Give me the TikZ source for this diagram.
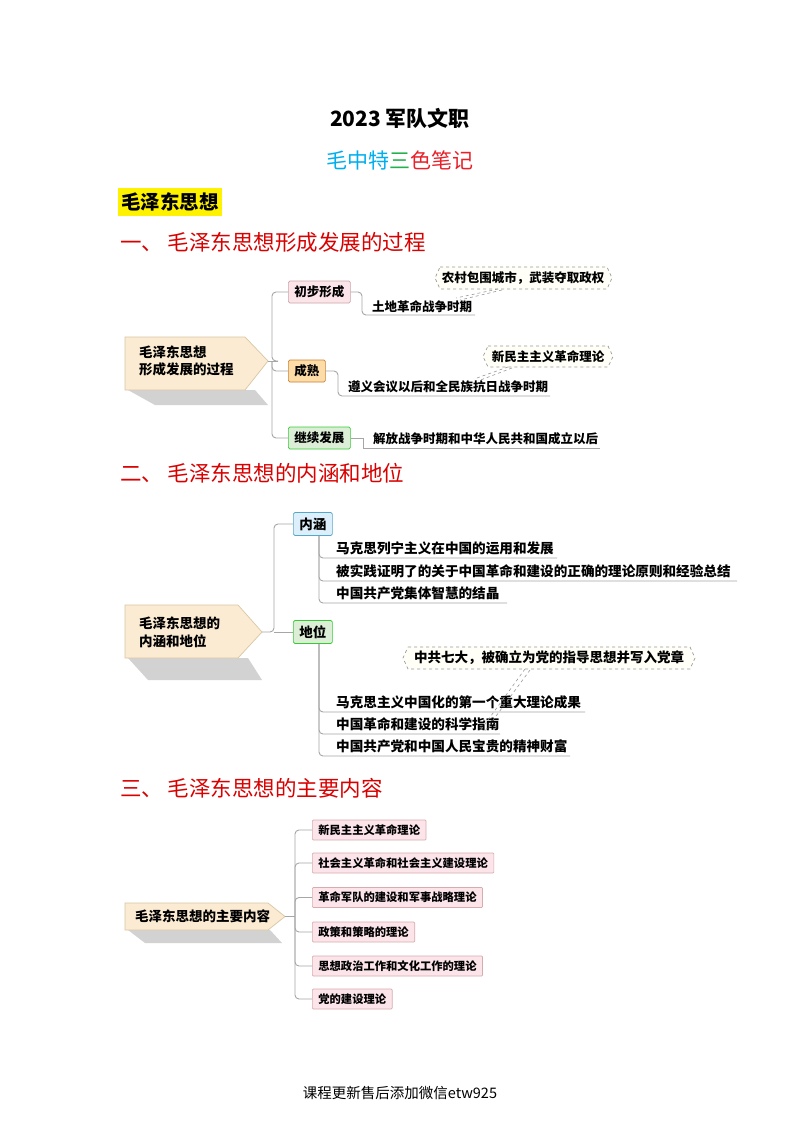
\documentclass[tikz,border=0pt]{standalone}
\usepackage{fontspec}
\setmainfont{Noto Sans CJK SC}
\begin{document}
\begin{tikzpicture}[x=1pt,y=-1pt,
  every node/.style={inner sep=0pt,font=\fontsize{12.5}{14}\selectfont\bfseries},
  lbl/.style={anchor=base west,font=\fontsize{12.5}{14}\selectfont\bfseries},
  lblb/.style={anchor=base west,font=\fontsize{13.6}{15}\selectfont\bfseries},
  conn/.style={draw=gray!70,line width=0.9pt,rounded corners=4pt},
  uline/.style={draw=gray!70,line width=0.9pt},
  bx/.style={draw=#1!60!gray,line width=0.7pt,rounded corners=1.5pt,inner xsep=6pt,minimum height=22pt,anchor=west},
  head/.style={anchor=base west,text=red!85!black,font=\fontsize{21.5}{25}\selectfont\mdseries},
  callout/.style={draw=gray!80,dashed,line width=0.7pt,fill=yellow!3},
  shadow/.style={fill=gray!35,draw=none},
  rootbox/.style={fill=rootfill,draw=rootdraw,line width=0.7pt}
]
\definecolor{rootfill}{HTML}{FBEBD2}
\definecolor{rootdraw}{HTML}{D9C6A2}
\definecolor{pinkf}{HTML}{FBE4EA}
\definecolor{orangef}{HTML}{FDDCA8}
\definecolor{greenf}{HTML}{DCEFD6}
\definecolor{bluef}{HTML}{DCEFFA}
\definecolor{titlecyan}{HTML}{00AEEF}
\definecolor{titlegreen}{HTML}{22B14C}
\definecolor{titlered}{HTML}{E8202A}
\useasboundingbox[fill=white] (0,0) rectangle (800,1132);

% titles
\node[font=\fontsize{21}{24}\selectfont\bfseries] (t1) at (400,118) {2023 军队文职};
\node[font=\fontsize{21}{24}\selectfont\mdseries] (t2) at (400,160) {\textcolor{titlecyan}{毛中特}\textcolor{titlegreen}{三}\textcolor{titlered}{色笔记}};
\node[fill=yellow,inner xsep=3pt,inner ysep=5pt,anchor=west,font=\fontsize{19.5}{22}\selectfont\bfseries] (t3) at (118,202) {毛泽东思想};
\node[head] (h1) at (120,250) {一、 毛泽东思想形成发展的过程};
\node[head] (h2) at (120,481) {二、 毛泽东思想的内涵和地位};
\node[head] (h3) at (120,796) {三、 毛泽东思想的主要内容};

% ===== diagram 1 =====
\fill[shadow] (128,390) -- (255,390) -- (268,405) -- (155,405) -- cycle;
\draw[rootbox] (125,337) -- (245,337) -- (268,361) -- (245,390) -- (125,390) -- cycle;
\node[anchor=west,align=left,font=\fontsize{13.5}{17}\selectfont\bfseries] (r1) at (139,361) {毛泽东思想\\形成发展的过程};
\coordinate (r1tip) at (268,361);
\node[bx=pink,fill=pinkf] (a1) at (288,292) {初步形成};
\node[bx=orange,fill=orangef] (a2) at (288,371) {成熟};
\node[bx=green,fill=greenf] (a3) at (288,438) {继续发展};
\draw[conn] (r1tip) -- (278,361);
\draw[conn] (278,361) -- (272,361) |- (a1.west);
\draw[conn] (272,361) |- (a2.west);
\draw[conn] (272,361) |- (a3.west);
\node[lbl] (b1) at (372,311) {土地革命战争时期};
\draw[conn] (a1.east) -- (362,292) |- (475,315);
\node[lbl] (b2) at (348,391) {遵义会议以后和全民族抗日战争时期};
\draw[conn] (a2.east) -- (338,371) |- (550,396);
\node[lbl] (b3) at (373,443) {解放战争时期和中华人民共和国成立以后};
\draw[uline] (a3.east) -- (363,438) |- (600,448);
% callouts
\draw[callout] (440,267) -- (607,267) -- (612,278) -- (607,289) -- (440,289) -- (435,278) -- cycle;
\node (c1) at (523,278) {农村包围城市，武装夺取政权};
\draw[gray!80,dashed,line width=0.6pt] (498,289) -- (456,298) (502,290) -- (460,300);
\draw[callout] (488,346) -- (608,346) -- (613,356.5) -- (608,367) -- (488,367) -- (483,356.5) -- cycle;
\node (c2) at (548,356.5) {新民主主义革命理论};
\draw[gray!80,dashed,line width=0.6pt] (508,367) -- (474,379) (512,368) -- (478,381);

% ===== diagram 2 =====
\fill[shadow] (128,658) -- (248,658) -- (262,680) -- (148,680) -- cycle;
\draw[rootbox] (125,605) -- (238,605) -- (262,632) -- (238,658) -- (125,658) -- cycle;
\node[anchor=west,align=left,font=\fontsize{13.5}{18}\selectfont\bfseries] (r2) at (139,632) {毛泽东思想的\\内涵和地位};
\coordinate (r2tip) at (262,632);
\node[bx=cyan,fill=bluef,font=\fontsize{13.5}{15}\selectfont\bfseries,minimum height=23pt] (d1) at (293,524) {内涵};
\node[bx=green,fill=greenf,font=\fontsize{13.5}{15}\selectfont\bfseries,minimum height=23pt] (d2) at (293,632) {地位};
\draw[conn] (r2tip) -- (274,632) |- (d1.west);
\draw[conn] (274,632) -- (d2.west);
\coordinate (v1) at (319,536);
\coordinate (v2) at (319,644);
\node[lblb] (e1) at (336,553) {马克思列宁主义在中国的运用和发展};
\node[lblb] (e2) at (336,576) {被实践证明了的关于中国革命和建设的正确的理论原则和经验总结};
\node[lblb] (e3) at (336,598) {中国共产党集体智慧的结晶};
\draw[conn] (v1) |- (557,558);
\draw[conn] (v1) |- (737,581);
\draw[conn] (v1) |- (507,603);
\node[lblb] (f1) at (336,707) {马克思主义中国化的第一个重大理论成果};
\node[lblb] (f2) at (336,729) {中国革命和建设的科学指南};
\node[lblb] (f3) at (336,751) {中国共产党和中国人民宝贵的精神财富};
\draw[conn] (v2) |- (585,712);
\draw[conn] (v2) |- (500,734);
\draw[conn] (v2) |- (570,756);
\draw[callout] (408,647) -- (690,647) -- (695,658) -- (690,669) -- (408,669) -- (403,658) -- cycle;
\node[font=\fontsize{13.5}{15}\selectfont\bfseries] (c3) at (549,658) {中共七大，被确立为党的指导思想并写入党章};
\draw[gray!80,dashed,line width=0.6pt] (525,669) -- (480,731) (530,670) -- (485,731);

% ===== diagram 3 =====
\fill[shadow] (128,930) -- (270,930) -- (282,943) -- (145,943) -- cycle;
\draw[rootbox] (125,903) -- (268,903) -- (285,916.5) -- (268,930) -- (125,930) -- cycle;
\node[anchor=west,font=\fontsize{13.5}{15}\selectfont\bfseries] (r3) at (135,916.5) {毛泽东思想的主要内容};
\coordinate (r3tip) at (285,916.5);
\coordinate (sp) at (295,916.5);
\tikzset{pb/.style={draw=pink!70!gray,fill=pinkf,line width=0.7pt,rounded corners=1pt,inner xsep=6pt,minimum height=20pt,anchor=west,font=\fontsize{11.3}{13}\selectfont\bfseries}}
\node[pb] (g1) at (312,830) {新民主主义革命理论};
\node[pb] (g2) at (312,863) {社会主义革命和社会主义建设理论};
\node[pb] (g3) at (312,897.5) {革命军队的建设和军事战略理论};
\node[pb] (g4) at (312,932) {政策和策略的理论};
\node[pb] (g5) at (312,966) {思想政治工作和文化工作的理论};
\node[pb] (g6) at (312,999) {党的建设理论};
\draw[conn] (r3tip) -- (sp);
\foreach \g in {g1,g2,g3,g4,g5,g6}{\draw[conn] (sp) |- (\g.west);}

% footer
\node[font=\fontsize{14.5}{16}\selectfont\mdseries] (ft) at (400,1093) {课程更新售后添加微信etw925};
\end{tikzpicture}
\end{document}
